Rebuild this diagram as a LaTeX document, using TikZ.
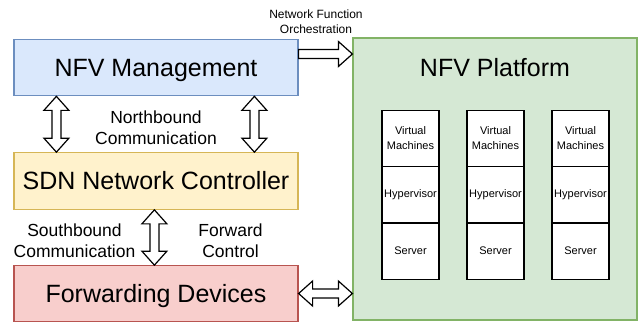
\documentclass[tikz,border=0pt]{standalone}
\usepackage{fontspec}
\setmainfont{Liberation Sans}
\usetikzlibrary{calc, positioning}
\definecolor{mgmtfill}{HTML}{DAE8FC}
\definecolor{mgmtline}{HTML}{6C8EBF}
\definecolor{ctrlfill}{HTML}{FFF2CC}
\definecolor{ctrlline}{HTML}{D6B656}
\definecolor{fwdfill}{HTML}{F8CECC}
\definecolor{fwdline}{HTML}{B85450}
\definecolor{platfill}{HTML}{D5E8D4}
\definecolor{platline}{HTML}{82B366}
\tikzset{
  bigfont/.style={font=\fontsize{25}{30}\selectfont},
  layer/.style={draw, line width=1.2pt, minimum width=284pt, minimum height=56.5pt,
    inner sep=0pt, text height=17.9pt, text depth=0pt, bigfont},
  cell/.style={draw=black, line width=1.2pt, fill=white, minimum width=57pt,
    minimum height=56.3pt, inner sep=0pt, outer sep=0pt, align=center,
    font=\fontsize{11}{15}\selectfont},
  lbl/.style={align=center, font=\fontsize{17.5}{21}\selectfont},
  smalllbl/.style={align=center, font=\fontsize{12}{15}\selectfont},
  % hollow block arrows, one head / two heads
  sblock/.style={draw=black, fill=white, line width=1.2pt, line join=miter, to path={
    ($(\tikztotarget)!14pt!(\tikztostart)$) coordinate (hb)
    ($(\tikztostart)!4.5pt!90:(\tikztotarget)$) -- ($(hb)!4.5pt!90:(\tikztotarget)$)
    -- ($(hb)!12.5pt!90:(\tikztotarget)$) -- (\tikztotarget)
    -- ($(hb)!12.5pt!-90:(\tikztotarget)$) -- ($(hb)!4.5pt!-90:(\tikztotarget)$)
    -- ($(\tikztostart)!4.5pt!-90:(\tikztotarget)$) -- cycle}},
  dblock/.style={draw=black, fill=white, line width=1.2pt, line join=miter, to path={
    ($(\tikztotarget)!14pt!(\tikztostart)$) coordinate (hbt)
    ($(\tikztostart)!14pt!(\tikztotarget)$) coordinate (hbs)
    (\tikztostart) -- ($(hbs)!12.5pt!90:(\tikztotarget)$) -- ($(hbs)!4.5pt!90:(\tikztotarget)$)
    -- ($(hbt)!4.5pt!90:(\tikztotarget)$) -- ($(hbt)!12.5pt!90:(\tikztotarget)$)
    -- (\tikztotarget) -- ($(hbt)!12.5pt!-90:(\tikztotarget)$)
    -- ($(hbt)!4.5pt!-90:(\tikztotarget)$) -- ($(hbs)!4.5pt!-90:(\tikztotarget)$)
    -- ($(hbs)!12.5pt!-90:(\tikztotarget)$) -- cycle}}
}

\begin{document}
\begin{tikzpicture}[x=1pt, y=-1pt]
\useasboundingbox (0,0) rectangle (642,322);
% left column
\node[layer, fill=mgmtfill, draw=mgmtline] (mgmt) at (156,67.5) {NFV Management};
\node[layer, fill=ctrlfill, draw=ctrlline] (sdn) at (156,181) {SDN Network Controller};
\node[layer, fill=fwdfill, draw=fwdline, minimum height=55.5pt] (fwd) at (156,293.5) {Forwarding Devices};
% platform
\node[draw=platline, fill=platfill, line width=1.2pt, minimum width=284pt, minimum height=282pt] (plat) at (495,179) {};
\node[bigfont] (plattitle) at (495,68) {NFV Platform};
\foreach \i/\xx in {1/410.5, 2/495.5, 3/580.5} {
  \node[cell] (vm\i) at (\xx,138.5) {Virtual\\Machines};
  \node[cell, below=0pt of vm\i] (hyp\i) {Hypervisor};
  \node[cell, below=0pt of hyp\i] (srv\i) {Server};
}
% labels
\node[lbl] (nbtext) at (156,127.5) {Northbound\\Communication};
\node[lbl] (sbtext) at (74.5,240.5) {Southbound\\Communication};
\node[lbl] (fctext) at (230.5,240.5) {Forward\\Control};
\node[smalllbl] (nfotext) at (316,22) {Network Function\\Orchestration};
% arrows
\coordinate (nfo) at ($(mgmt.east)+(0,-13.5)$);
\coordinate (nb1) at ($(mgmt.south west)+(43,0)$);
\coordinate (nb2) at ($(mgmt.south west)+(241,0)$);
\coordinate (sb) at ($(sdn.south west)+(141,0)$);
\draw[sblock] (nfo) to (nfo -| plat.west);
\draw[dblock] (nb1) to (nb1 |- sdn.north);
\draw[dblock] (nb2) to (nb2 |- sdn.north);
\draw[dblock] (sb) to (sb |- fwd.north);
\draw[dblock] (fwd.east) to (fwd.east -| plat.west);
\end{tikzpicture}
\end{document}
